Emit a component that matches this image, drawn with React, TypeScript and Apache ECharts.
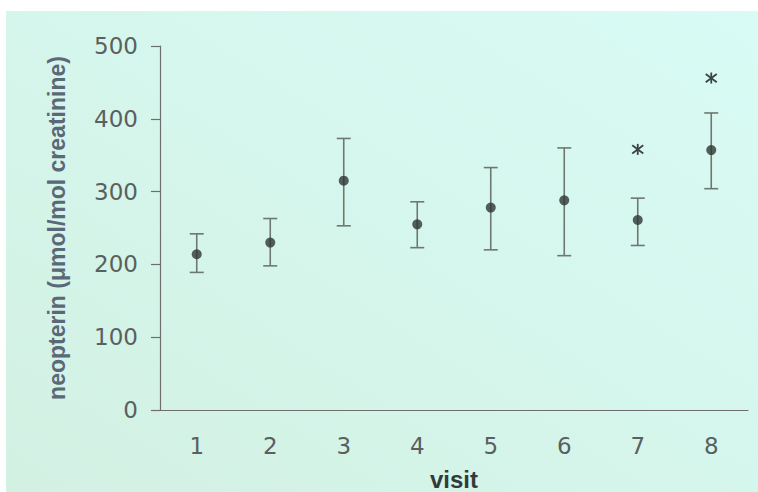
import React, { useEffect, useRef } from "react";
import * as echarts from "echarts";

// Visit labels along the x axis
const visits = ["1", "2", "3", "4", "5", "6", "7", "8"];
// Mean neopterin per visit (µmol/mol creatinine)
const means = [214, 230, 315, 255, 278, 288, 261, 357];
// Upper and lower ends of the error bars
const upper = [242, 263, 373, 286, 333, 360, 291, 408];
const lower = [189, 198, 253, 223, 220, 212, 226, 304];
// Significance markers (visit index, value)
const starVisits = [6, 7];
const starValues = [358, 456];
// Value axis ticks
const yMin = 0;
const yMax = 500;
const yStep = 100;

export default function App() {
  const ref = useRef<HTMLDivElement>(null);

  useEffect(() => {
    if (!ref.current) return;
    const chart = echarts.init(ref.current, null, { renderer: "svg" });

    const barData = visits.map((_, i) => [i, lower[i], upper[i]]);
    const meanData = visits.map((_, i) => [i, means[i]]);
    const starData = starVisits.map((v, i) => [v, starValues[i]]);

    const barColor = "#6f786f";

    chart.setOption({
      animation: false,
      backgroundColor: "#ffffff",
      graphic: [
        {
          type: "rect",
          z: -10,
          shape: { x: 6, y: 11, width: 752, height: 481 },
          style: {
            fill: {
              type: "linear",
              x: 0,
              y: 1,
              x2: 1,
              y2: 0,
              colorStops: [
                { offset: 0, color: "#d3f1e3" },
                { offset: 1, color: "#d8fbf5" },
              ],
            },
          },
        },
      ],
      grid: {
        left: 160,
        right: 10,
        top: 46,
        bottom: 82,
        containLabel: false,
        outerBoundsMode: "none",
      },
      xAxis: {
        type: "category",
        data: visits,
        boundaryGap: true,
        name: "visit",
        nameLocation: "middle",
        nameGap: 57,
        nameTextStyle: {
          fontFamily: "Liberation Sans",
          fontWeight: "bold",
          fontSize: 24,
          color: "#343a3a",
        },
        axisLine: { lineStyle: { color: "#6e6e6e", width: 1.2 } },
        axisTick: { show: false },
        axisLabel: {
          margin: 24,
          fontFamily: "DejaVu Sans",
          fontSize: 23,
          color: "#5a5f60",
        },
        splitLine: { show: false },
      },
      yAxis: {
        type: "value",
        min: yMin,
        max: yMax,
        interval: yStep,
        name: "neopterin (\u03bcmol/mol creatinine)",
        nameLocation: "middle",
        nameGap: 92,
        nameRotate: 90,
        nameTextStyle: {
          fontFamily: "Liberation Sans",
          fontWeight: "bold",
          fontSize: 23,
          color: "#5a6878",
        },
        axisLine: { show: true, lineStyle: { color: "#6e6e6e", width: 1.2 } },
        axisTick: { show: true, length: 9, lineStyle: { color: "#6e6e6e", width: 1.2 } },
        axisLabel: {
          margin: 22,
          fontFamily: "DejaVu Sans",
          fontSize: 23,
          color: "#5a5f60",
        },
        splitLine: { show: false },
      },
      series: [
        {
          type: "custom",
          data: barData,
          encode: { x: 0, y: [1, 2] },
          z: 2,
          renderItem: (params: any, api: any) => {
            const x = api.value(0);
            const lo = api.coord([x, api.value(1)]);
            const hi = api.coord([x, api.value(2)]);
            const half = 7;
            const style = { stroke: barColor, lineWidth: 1.6 };
            return {
              type: "group",
              children: [
                { type: "line", shape: { x1: lo[0], y1: lo[1], x2: hi[0], y2: hi[1] }, style },
                { type: "line", shape: { x1: hi[0] - half, y1: hi[1], x2: hi[0] + half, y2: hi[1] }, style },
                { type: "line", shape: { x1: lo[0] - half, y1: lo[1], x2: lo[0] + half, y2: lo[1] }, style },
              ],
            };
          },
        },
        {
          type: "scatter",
          data: meanData,
          symbol: "circle",
          symbolSize: 10,
          z: 3,
          itemStyle: { color: "#2e3633" },
        },
        {
          type: "custom",
          data: starData,
          encode: { x: 0, y: 1 },
          z: 3,
          renderItem: (params: any, api: any) => {
            const p = api.coord([api.value(0), api.value(1)]);
            const r = 5.5;
            const style = { stroke: "#3c4442", lineWidth: 1.8 };
            return {
              type: "group",
              children: [
                { type: "line", shape: { x1: p[0] - r, y1: p[1] - r * 0.75, x2: p[0] + r, y2: p[1] + r * 0.75 }, style },
                { type: "line", shape: { x1: p[0] - r, y1: p[1] + r * 0.75, x2: p[0] + r, y2: p[1] - r * 0.75 }, style },
                { type: "line", shape: { x1: p[0], y1: p[1] - r, x2: p[0], y2: p[1] + r }, style },
              ],
            };
          },
        },
      ],
    });

    return () => chart.dispose();
  }, []);

  return (
    <div
      ref={ref}
      style={{ position: "fixed", left: 0, top: 0, width: 758, height: 492 }}
    />
  );
}
